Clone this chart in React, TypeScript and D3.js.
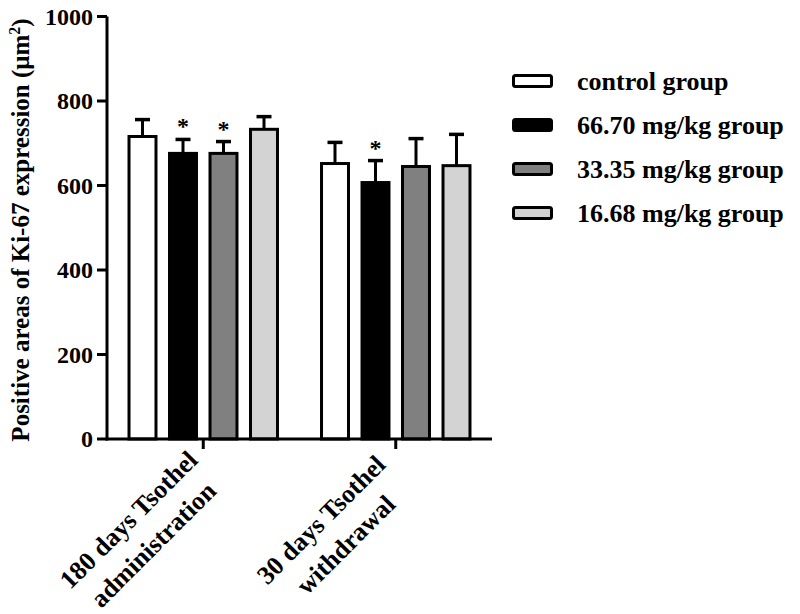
import React from "react";
import * as d3 from "d3";

const groupLines: string[][] = [
  ["180 days Tsothel", "administration"],
  ["30 days Tsothel", "withdrawal"],
];
const groupKeys = ["g180", "g30"];
const series = ["control group", "66.70 mg/kg group", "33.35 mg/kg group", "16.68 mg/kg group"];
const seriesColors = ["#ffffff", "#000000", "#808080", "#d3d3d3"];

const means180 = [716, 676, 676, 733];
const sem180 = [40, 33, 28, 30];
const sig180 = [false, true, true, false];

const means30 = [652, 607, 645, 647];
const sem30 = [50, 52, 66, 74];
const sig30 = [false, true, false, false];

const yTicks = [0, 200, 400, 600, 800, 1000];

const FONT = "'Liberation Serif', 'Times New Roman', serif";

export default function App() {
  const W = 800;
  const H = 614;
  const axisX = 107;
  const axisEnd = 492;
  const y = d3.scaleLinear().domain([0, 1000]).range([439, 16.5]);
  const y0 = y(0);
  const xg = d3.scalePoint<string>().domain(groupKeys).range([axisX, axisEnd]).padding(0.5);
  const xs = d3
    .scaleBand<string>()
    .domain(series)
    .range([-81, 81])
    .paddingInner(0.26)
    .paddingOuter(0.13);
  const bw = xs.bandwidth();
  const sw = 3;

  const data = [
    { key: groupKeys[0], means: means180, sem: sem180, sig: sig180 },
    { key: groupKeys[1], means: means30, sem: sem30, sig: sig30 },
  ];

  return (
    <svg
      width={W}
      height={H}
      style={{ position: "absolute", left: 0, top: 0, background: "#fff" }}
      fontFamily={FONT}
      fontWeight="bold"
    >
      {/* bars */}
      {data.map((g, gi) => {
        const cx = xg(g.key)!;
        return (
          <g key={g.key}>
            {series.map((s, si) => {
              const bx = cx + xs(s)!;
              const mid = bx + bw / 2;
              const top = y(g.means[si]);
              const errTop = y(g.means[si] + g.sem[si]);
              return (
                <g key={s}>
                  <line x1={mid} x2={mid} y1={top} y2={errTop} stroke="#000" strokeWidth={3} />
                  <line x1={mid - 7.5} x2={mid + 7.5} y1={errTop} y2={errTop} stroke="#000" strokeWidth={3.5} />
                  <rect
                    x={bx + sw / 2}
                    y={top}
                    width={bw - sw}
                    height={y0 - top}
                    fill={seriesColors[si]}
                    stroke="#000"
                    strokeWidth={sw}
                  />
                  {g.sig[si] && (
                    <text x={mid} y={errTop - 5} textAnchor="middle" fontSize={24}>
                      *
                    </text>
                  )}
                </g>
              );
            })}
          </g>
        );
      })}

      {/* y axis */}
      <line x1={axisX} x2={axisX} y1={y(1000)} y2={y0 + 1.5} stroke="#000" strokeWidth={3} />
      {yTicks.map((t) => (
        <g key={t}>
          <line x1={axisX - 10} x2={axisX} y1={y(t)} y2={y(t)} stroke="#000" strokeWidth={3} />
          <text x={axisX - 14} y={y(t) + 8} textAnchor="end" fontSize={24}>
            {t}
          </text>
        </g>
      ))}

      {/* x axis */}
      <line x1={axisX - 1.5} x2={axisEnd} y1={y0} y2={y0} stroke="#000" strokeWidth={3} />
      {groupKeys.map((k, i) => {
        const cx = xg(k)!;
        return (
          <g key={k}>
            <line x1={cx} x2={cx} y1={y0} y2={y0 + 10} stroke="#000" strokeWidth={3} />
            <g transform={`translate(${cx},${y0}) rotate(-45)`}>
              <text textAnchor="middle" fontSize={26}>
                <tspan x={-110} y={13}>
                  {groupLines[i][0]}
                </tspan>
                <tspan x={-110} y={13 + 35}>
                  {groupLines[i][1]}
                </tspan>
              </text>
            </g>
          </g>
        );
      })}

      {/* y title */}
      <text transform={`translate(29,230) rotate(-90)`} textAnchor="middle" fontSize={25}>
        Positive areas of Ki-67 expression (μm
        <tspan fontSize={16} dy={-9}>
          2
        </tspan>
        <tspan dy={9}>)</tspan>
      </text>

      {/* legend */}
      {series.map((s, i) => {
        const cy = 81 + i * 44;
        return (
          <g key={s}>
            <rect
              x={513.5}
              y={cy - 5.5}
              width={38}
              height={11}
              rx={2}
              fill={seriesColors[i]}
              stroke="#000"
              strokeWidth={3}
            />
            <text x={577} y={cy + 9} fontSize={26}>
              {s}
            </text>
          </g>
        );
      })}
    </svg>
  );
}
